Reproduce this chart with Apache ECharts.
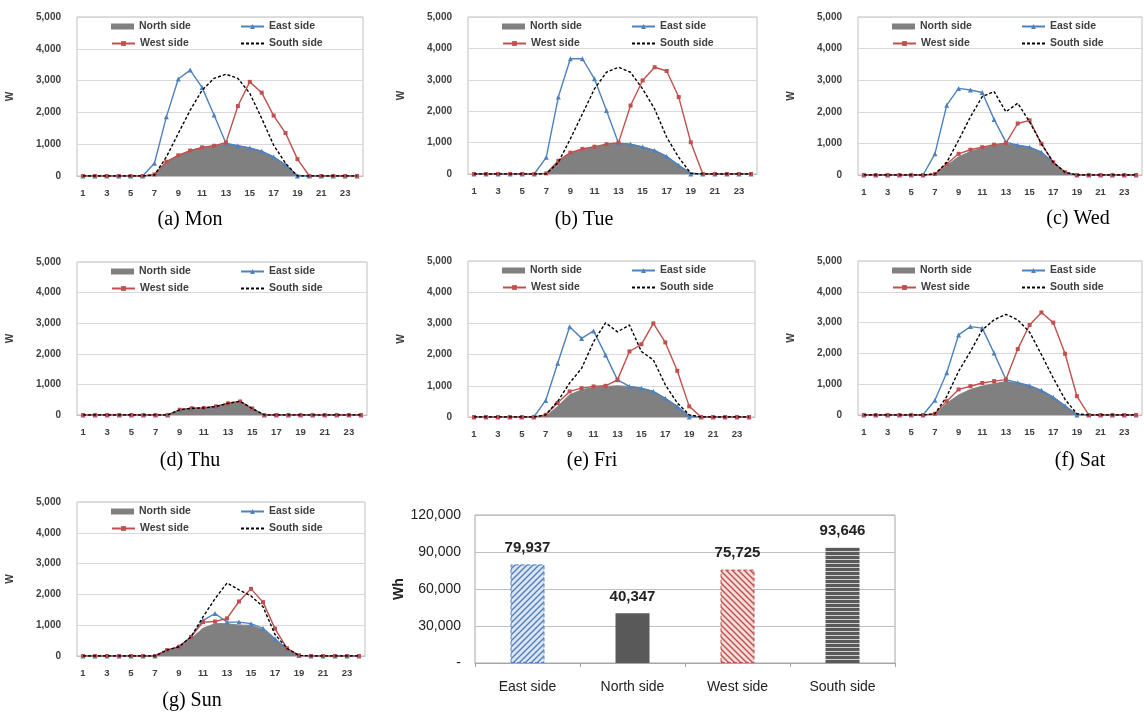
<!DOCTYPE html>
<html>
<head>
<meta charset="utf-8">
<script src="https://cdn.jsdelivr.net/npm/echarts@6/dist/echarts.min.js"></script>
<style>
html,body{margin:0;padding:0;background:#fff;}
#chart{width:1144px;height:716px;}
</style>
</head>
<body>
<div id="chart"></div>
<script>
// ---- data ----
const hours = ['1','2','3','4','5','6','7','8','9','10','11','12','13','14','15','16','17','18','19','20','21','22','23','24'];
const seriesNames = ['North side','East side','West side','South side'];

const monNorth = [0,0,0,0,0,0,50,450,650,800,900,950,1000,950,880,780,600,350,30,0,0,0,0,0];
const monEast  = [0,0,0,0,0,0,400,1860,3050,3330,2780,1920,1030,950,880,780,600,350,0,0,0,0,0,0];
const monWest  = [0,0,0,0,0,0,50,450,650,800,900,950,1050,2200,2960,2620,1900,1350,530,0,0,0,0,0];
const monSouth = [0,0,0,0,0,0,30,600,1340,2070,2700,3070,3200,3070,2600,1810,970,400,0,0,0,0,0,0];

const tueNorth = [0,0,0,0,0,0,30,400,650,800,860,940,980,950,860,750,560,280,40,0,0,0,0,0];
const tueEast  = [0,0,0,0,0,0,530,2450,3670,3670,3030,2020,980,950,860,750,560,280,0,0,0,0,0,0];
const tueWest  = [0,0,0,0,0,0,20,420,680,800,870,950,1000,2180,2980,3400,3280,2450,1010,0,0,0,0,0];
const tueSouth = [0,0,0,0,0,0,0,370,1120,1910,2710,3240,3400,3240,2710,2070,1170,530,20,0,0,0,0,0];

const wedNorth = [0,0,0,0,0,0,20,300,580,740,850,930,990,940,880,720,400,80,0,0,0,0,0,0];
const wedEast  = [0,0,0,0,0,0,670,2210,2740,2690,2610,1760,1040,940,880,720,400,80,0,0,0,0,0,0];
const wedWest  = [0,0,0,0,0,0,30,350,670,800,880,960,1010,1630,1730,990,400,85,0,0,0,0,0,0];
const wedSouth = [0,0,0,0,0,0,30,400,1100,1840,2480,2640,2000,2270,1680,990,400,85,0,0,0,0,0,0];

const thuNorth = [0,0,0,0,0,0,0,0,150,200,210,260,360,420,190,0,0,0,0,0,0,0,0,0];
const thuEast  = [0,0,0,0,0,0,0,0,170,220,230,280,380,440,210,0,0,0,0,0,0,0,0,0];
const thuWest  = [0,0,0,0,0,0,0,0,170,220,230,280,380,440,210,0,0,0,0,0,0,0,0,0];
const thuSouth = [0,0,0,0,0,0,0,0,170,220,230,280,380,450,210,0,0,0,0,0,0,0,0,0];

const friNorth = [0,0,0,0,0,0,20,340,710,870,950,980,1000,980,925,820,600,340,50,0,0,0,0,0];
const friEast  = [0,0,0,0,0,0,530,1720,2890,2520,2760,1990,1190,980,925,820,600,340,0,0,0,0,0,0];
const friWest  = [0,0,0,0,0,0,70,450,820,925,980,1000,1190,2100,2330,3000,2390,1480,340,0,0,0,0,0];
const friSouth = [0,0,0,0,0,0,70,500,1090,1560,2410,3020,2730,2950,2100,1830,1030,450,70,0,0,0,0,0];

const satNorth = [0,0,0,0,0,0,20,380,650,830,940,1020,1080,1050,950,800,580,300,30,0,0,0,0,0];
const satEast  = [0,0,0,0,0,0,480,1370,2600,2870,2820,2010,1150,1050,950,800,580,300,0,0,0,0,0,0];
const satWest  = [0,0,0,0,0,0,40,450,830,935,1040,1100,1150,2140,2920,3330,3000,1990,610,0,0,0,0,0];
const satSouth = [0,0,0,0,0,0,40,600,1420,2060,2760,3090,3270,3090,2690,1960,1200,505,40,0,0,0,0,0];

const sunNorth = [0,0,0,0,0,0,0,150,280,560,900,1050,1050,1000,1000,850,550,220,20,0,0,0,0,0];
const sunEast  = [0,0,0,0,0,0,0,190,300,620,1160,1380,1100,1100,1050,900,560,230,20,0,0,0,0,0];
const sunWest  = [0,0,0,0,0,0,0,190,300,620,1100,1120,1220,1770,2180,1750,890,250,20,0,0,0,0,0];
const sunSouth = [0,0,0,0,0,0,0,190,300,620,1270,1860,2370,2150,1950,1600,700,250,20,0,0,0,0,0];

const dayTitles = ['(a) Mon','(b) Tue','(c) Wed','(d) Thu','(e) Fri','(f) Sat','(g) Sun'];

const barCategories = ['East side','North side','West side','South side'];
const barTotals = [79937, 40347, 75725, 93646];

// ---- layout / style ----
const days = [
  [monNorth,monEast,monWest,monSouth],
  [tueNorth,tueEast,tueWest,tueSouth],
  [wedNorth,wedEast,wedWest,wedSouth],
  [thuNorth,thuEast,thuWest,thuSouth],
  [friNorth,friEast,friWest,friSouth],
  [satNorth,satEast,satWest,satSouth],
  [sunNorth,sunEast,sunWest,sunSouth]
];
const panels = [
  {l:77, t:17, w:286, h:159, tx:190, ty:220},
  {l:468,t:17, w:289, h:157, tx:584, ty:220},
  {l:858,t:17, w:284, h:158, tx:1078,ty:219},
  {l:77, t:262,w:290, h:153, tx:190, ty:461},
  {l:468,t:261,w:287, h:156, tx:592, ty:461},
  {l:858,t:261,w:284, h:154, tx:1080,ty:461},
  {l:77, t:502,w:288, h:154, tx:192, ty:701}
];
const bar = {l:475, t:515, w:420, h:148};

const C_EAST = '#4f81bd', C_WEST = '#c0504d', C_NORTH = '#808080', C_SOUTH = '#000000';
const fmt = v => String(v).replace(/\B(?=(\d{3})+(?!\d))/g, ',');
const SANS = 'Liberation Sans Narrow, Liberation Sans, Arial, sans-serif';

function pattern(type){
  const c = document.createElement('canvas');
  const ctx = c.getContext('2d');
  if(type === 'east' || type === 'west'){
    const s = 6; c.width = s; c.height = s;
    ctx.fillStyle = type === 'east' ? '#dce6f2' : '#f4dcdb';
    ctx.fillRect(0,0,s,s);
    ctx.strokeStyle = type === 'east' ? '#4f81bd' : '#c0504d';
    ctx.lineWidth = 1.4;
    ctx.beginPath();
    if(type === 'east'){
      ctx.moveTo(-1,s+1); ctx.lineTo(s+1,-1);
      ctx.moveTo(-1,1); ctx.lineTo(1,-1);
      ctx.moveTo(s-1,s+1); ctx.lineTo(s+1,s-1);
    } else {
      ctx.moveTo(-1,-1); ctx.lineTo(s+1,s+1);
      ctx.moveTo(s-1,-1); ctx.lineTo(s+1,1);
      ctx.moveTo(-1,s-1); ctx.lineTo(1,s+1);
    }
    ctx.stroke();
  } else {
    c.width = 4; c.height = 4;
    ctx.fillStyle = '#5a5a5a'; ctx.fillRect(0,0,4,4);
    ctx.fillStyle = '#d0d0d0'; ctx.fillRect(0,3,4,1);
  }
  return {image: c, repeat: 'repeat'};
}

const grid = [], xAxis = [], yAxis = [], series = [], legend = [], graphics = [];

panels.forEach((p, i) => {
  grid.push({left:p.l, top:p.t, width:p.w, height:p.h, show:true, borderColor:'#bfbfbf', borderWidth:1, backgroundColor:'#fff'});
  xAxis.push({type:'category', gridIndex:i, data:hours, boundaryGap:true,
    axisLine:{show:true, lineStyle:{color:'#bfbfbf'}}, axisTick:{show:false},
    axisLabel:{interval:1, fontSize:9.5, fontWeight:'bold', color:'#404040', margin:12, fontFamily:SANS}});
  yAxis.push({type:'value', gridIndex:i, min:0, max:5000, interval:1000,
    name:'W', nameLocation:'middle', nameRotate:90, nameGap:62,
    nameTextStyle:{fontSize:10, fontWeight:'bold', color:'#404040', fontFamily:SANS},
    axisLine:{show:false}, axisTick:{show:false},
    axisLabel:{formatter:v=>fmt(v), fontSize:10, fontWeight:'bold', color:'#404040', margin:16, fontFamily:SANS},
    splitLine:{lineStyle:{color:'#d9d9d9'}}});
  const d = days[i];
  series.push({name:seriesNames[0], type:'line', xAxisIndex:i, yAxisIndex:i, data:d[0], symbol:'none',
    lineStyle:{color:C_NORTH, width:1}, itemStyle:{color:C_NORTH}, areaStyle:{color:C_NORTH, opacity:1}, z:2});
  series.push({name:seriesNames[1], type:'line', xAxisIndex:i, yAxisIndex:i, data:d[1], symbol:'triangle', symbolSize:5,
    lineStyle:{color:C_EAST, width:1.4}, itemStyle:{color:C_EAST}, z:3});
  series.push({name:seriesNames[2], type:'line', xAxisIndex:i, yAxisIndex:i, data:d[2], symbol:'rect', symbolSize:4,
    lineStyle:{color:C_WEST, width:1.4}, itemStyle:{color:C_WEST}, z:4});
  series.push({name:seriesNames[3], type:'line', xAxisIndex:i, yAxisIndex:i, data:d[3], symbol:'none',
    lineStyle:{color:C_SOUTH, width:1.4, type:[3,2]}, itemStyle:{color:C_SOUTH}, z:5});
  const cols = [p.l+34, p.l+163];
  const rows = [p.t+4, p.t+21];
  const place = [[0,0],[1,0],[0,1],[1,1]];
  seriesNames.forEach((n, k) => {
    let item = {name:n};
    if(k===0) item = {name:n, icon:'rect'};
    if(k===3) item = {name:n, itemStyle:{opacity:0}};
    legend.push({show:true, selectedMode:false, orient:'horizontal',
      left:cols[place[k][0]], top:rows[place[k][1]],
      itemWidth:23, itemHeight:6, itemGap:3, padding:0,
      textStyle:{fontSize:10.5, fontWeight:'bold', color:'#404040', fontFamily:SANS},
      data:[item]});
  });
  graphics.push({type:'text', x:p.tx, y:p.ty,
    style:{text:dayTitles[i], fill:'#000', font:'20px "Liberation Serif", "Times New Roman", serif', textAlign:'center', textVerticalAlign:'middle'}});
});

// bar chart
const bi = panels.length;
grid.push({left:bar.l, top:bar.t, width:bar.w, height:bar.h, show:true, borderColor:'#a6a6a6', borderWidth:1, backgroundColor:'#fff'});
xAxis.push({type:'category', gridIndex:bi, data:barCategories,
  axisLine:{show:true, lineStyle:{color:'#a6a6a6'}}, axisTick:{show:true, length:4, lineStyle:{color:'#a6a6a6'}},
  axisLabel:{fontSize:14, color:'#222', margin:17, fontFamily:SANS}});
yAxis.push({type:'value', gridIndex:bi, min:0, max:120000, interval:30000,
  name:'Wh', nameLocation:'middle', nameRotate:90, nameGap:59,
  nameTextStyle:{fontSize:14, fontWeight:'bold', color:'#222', fontFamily:SANS},
  axisLine:{show:false}, axisTick:{show:false},
  axisLabel:{formatter:v=> v===0 ? '-' : fmt(v), fontSize:14, color:'#222', margin:14, fontFamily:SANS},
  splitLine:{lineStyle:{color:'#bfbfbf'}}});
const barStyles = [
  {color:pattern('east'), borderColor:C_EAST, borderWidth:1, borderType:'dashed'},
  {color:'#595959'},
  {color:pattern('west'), borderColor:C_WEST, borderWidth:1, borderType:'dashed'},
  {color:pattern('south')}
];
series.push({type:'bar', xAxisIndex:bi, yAxisIndex:bi, barWidth:34,
  data: barTotals.map((v, k) => ({value:v, itemStyle:barStyles[k]})),
  label:{show:true, position:'top', distance:9, formatter:q=>fmt(q.value), fontSize:15, fontWeight:'bold', color:'#222', fontFamily:SANS}});

const chart = echarts.init(document.getElementById('chart'), null, {renderer:'canvas'});
chart.setOption({
  backgroundColor:'#fff',
  animation:false,
  grid, xAxis, yAxis, series, legend,
  graphic: graphics
});
</script>
</body>
</html>
